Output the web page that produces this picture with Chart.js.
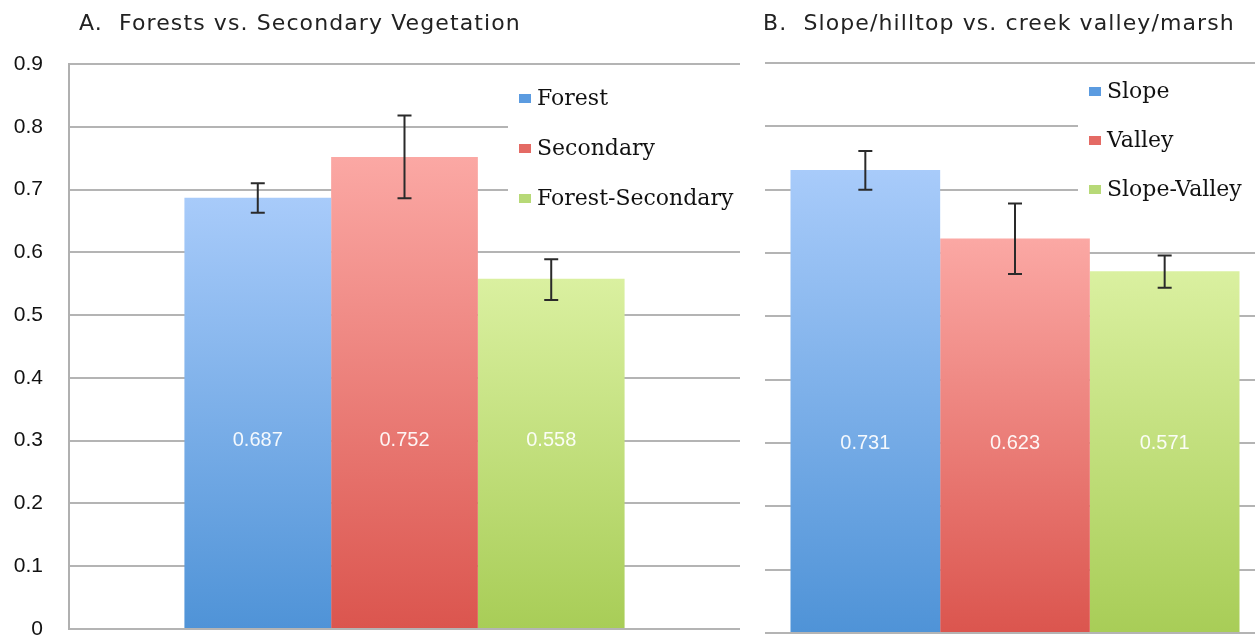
<!DOCTYPE html>
<html>
<head>
<meta charset="utf-8">
<script src="https://cdn.jsdelivr.net/npm/chart.js@4.4.1/dist/chart.umd.min.js"></script>
<style>
  body { margin: 0; background: #fff; }
  #wrap { position: relative; width: 1255px; height: 643px; overflow: hidden; }
  #c1 { position: absolute; left: 0; top: 0; }
  #c2 { position: absolute; left: 745px; top: 0; }
</style>
</head>
<body>
<div id="wrap">
  <canvas id="c1" width="745" height="643"></canvas>
  <canvas id="c2" width="520" height="643"></canvas>
</div>
<script>
// panel A
var forestTitle = 'A.  Forests vs. Secondary Vegetation';
var forestNames = ['Forest', 'Secondary', 'Forest-Secondary'];
var forestMeans = [0.687, 0.752, 0.558];
var forestLow = [0.663, 0.686, 0.524];
var forestHigh = [0.710, 0.818, 0.589];

// panel B
var slopeTitle = 'B.  Slope/hilltop vs. creek valley/marsh';
var slopeNames = ['Slope', 'Valley', 'Slope-Valley'];
var slopeMeans = [0.731, 0.623, 0.571];
var slopeLow = [0.700, 0.567, 0.545];
var slopeHigh = [0.761, 0.678, 0.596];

var yTickLabels = ['0', '0.1', '0.2', '0.3', '0.4', '0.5', '0.6', '0.7', '0.8', '0.9'];
var labelAt = 0.3;

var gradStops = [
  ['#a8cbfa', '#4f93d7'],
  ['#fba8a4', '#db554e'],
  ['#daf0a0', '#a8cd57']
];
var keyColors = ['#5b9be0', '#e46a64', '#b7d977'];

function barGradient(i) {
  return function(ctx) {
    var chart = ctx.chart;
    var y = chart.scales.y;
    if (!chart.chartArea || !y) return gradStops[i][1];
    var v = ctx.raw != null ? ctx.raw : 0;
    var g = chart.ctx.createLinearGradient(0, y.getPixelForValue(v), 0, y.getPixelForValue(0));
    g.addColorStop(0, gradStops[i][0]);
    g.addColorStop(1, gradStops[i][1]);
    return g;
  };
}

var extras = {
  id: 'extras',
  afterDatasetsDraw: function(chart, args, opts) {
    var c = chart.ctx, y = chart.scales.y;
    c.save();
    chart.data.datasets.forEach(function(ds, i) {
      var bar = chart.getDatasetMeta(i).data[0];
      var yl = y.getPixelForValue(opts.low[i]);
      var yh = y.getPixelForValue(opts.high[i]);
      c.strokeStyle = '#2a2a2a';
      c.lineWidth = 2;
      c.beginPath();
      c.moveTo(bar.x, yl); c.lineTo(bar.x, yh);
      c.moveTo(bar.x - 7, yl); c.lineTo(bar.x + 7, yl);
      c.moveTo(bar.x - 7, yh); c.lineTo(bar.x + 7, yh);
      c.stroke();
      c.fillStyle = 'rgba(255,255,255,0.92)';
      c.font = '20px "Liberation Sans", Arial, sans-serif';
      c.textAlign = 'center';
      c.textBaseline = 'middle';
      c.fillText(ds.data[0].toFixed(3), bar.x, y.getPixelForValue(labelAt));
    });
    c.restore();
  },
  afterDraw: function(chart, args, opts) {
    var c = chart.ctx, a = chart.chartArea;
    c.save();
    // title
    c.fillStyle = '#222';
    c.font = '22px "DejaVu Sans", sans-serif';
    c.letterSpacing = '1.1px';
    c.textAlign = 'left';
    c.textBaseline = 'middle';
    c.fillText(opts.title, opts.titleX, 24);
    c.letterSpacing = '0px';
    // legend
    var lx = opts.legendX;
    c.fillStyle = '#fff';
    c.fillRect(lx, a.top + 10, 260, opts.legendH);
    c.font = '22px "DejaVu Serif", serif';
    chart.data.datasets.forEach(function(ds, i) {
      var cy = a.top + opts.legendTop + i * opts.legendGap;
      c.fillStyle = keyColors[i];
      c.fillRect(lx + 11, cy - 5, 12, 9);
      c.fillStyle = '#111';
      c.fillText(ds.label, lx + 29, cy);
    });
    c.restore();
  }
};

function makeChart(id, names, means, low, high, o) {
  return new Chart(document.getElementById(id), {
    type: 'bar',
    data: {
      labels: [''],
      datasets: names.map(function(n, i) {
        return { label: n, data: [means[i]], backgroundColor: barGradient(i), borderWidth: 0 };
      })
    },
    options: {
      responsive: false,
      animation: false,
      devicePixelRatio: 1,
      layout: { padding: o.padding },
      categoryPercentage: o.catPct,
      barPercentage: 1,
      plugins: {
        legend: { display: false },
        tooltip: { enabled: false },
        extras: {
          low: low, high: high, title: o.title, titleX: o.titleX,
          legendX: o.legendX, legendTop: o.legendTop, legendGap: o.legendGap, legendH: o.legendH
        }
      },
      scales: {
        x: { display: false },
        y: {
          min: 0, max: 0.9,
          afterFit: function(s) {
            s.width = o.axisW;
            s.paddingTop = 0;
            s.paddingBottom = 0;
          },
          border: { display: o.showAxis, color: '#b0b0b0', width: 2 },
          grid: { color: '#b4b4b4', lineWidth: 2, drawTicks: false },
          ticks: {
            display: o.showAxis,
            stepSize: 0.1,
            padding: 26,
            color: '#111',
            font: { family: '"Liberation Sans", Arial, sans-serif', size: 21 },
            callback: function(v, i) { return yTickLabels[i]; }
          }
        }
      }
    },
    plugins: [extras]
  });
}

makeChart('c1', forestNames, forestMeans, forestLow, forestHigh, {
  padding: { left: 0, top: 64, right: 5, bottom: 14 },
  axisW: 69, showAxis: true, catPct: 0.656,
  title: forestTitle, titleX: 79,
  legendX: 508, legendTop: 35, legendGap: 50, legendH: 150
});

makeChart('c2', slopeNames, slopeMeans, slopeLow, slopeHigh, {
  padding: { left: 0, top: 63, right: 0, bottom: 10 },
  axisW: 20, showAxis: false, catPct: 0.898,
  title: slopeTitle, titleX: 18,
  legendX: 333, legendTop: 29, legendGap: 49, legendH: 160
});
</script>
</body>
</html>
